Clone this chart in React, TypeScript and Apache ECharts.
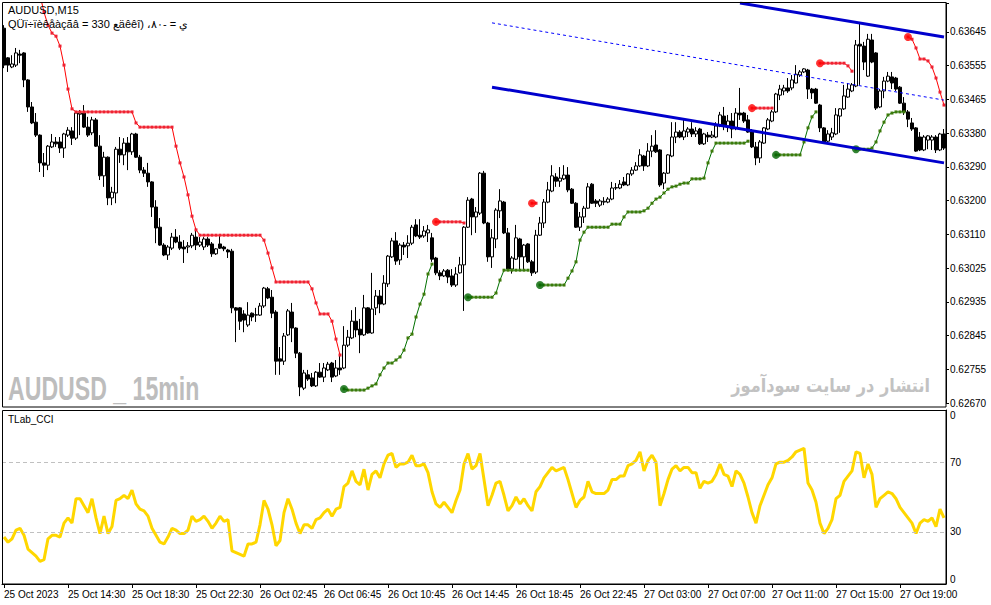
import React, { useEffect, useRef } from "react";
import * as echarts from "echarts";

// ---------- DATA ----------
const xTickLabels = [
  "25 Oct 2023", "25 Oct 14:30", "25 Oct 18:30", "25 Oct 22:30", "26 Oct 02:45",
  "26 Oct 06:45", "26 Oct 10:45", "26 Oct 14:45", "26 Oct 18:45", "26 Oct 22:45",
  "27 Oct 03:00", "27 Oct 07:00", "27 Oct 11:00", "27 Oct 15:00", "27 Oct 19:00",
];
const barsPerTick = 16;
const priceTickLabels = [
  "0.62670", "0.62755", "0.62845", "0.62935", "0.63025", "0.63110",
  "0.63200", "0.63290", "0.63380", "0.63465", "0.63555", "0.63645",
];
const priceMin = 0.6267;
const priceMax = 0.637212;
const priceStep = 0.6267 / 707;

// [open, high, low, close]
const ohlc: number[][] = [
  [0.63655,0.63663,0.63550,0.63558],[0.63577,0.63579,0.63540,0.63558],[0.63553,0.63584,0.63550,0.63561],[0.63558,0.63603,0.63553,0.63590],
  [0.63587,0.63598,0.63563,0.63584],[0.63590,0.63592,0.63500,0.63519],[0.63519,0.63521,0.63435,0.63448],[0.63448,0.63461,0.63403,0.63406],
  [0.63408,0.63432,0.63369,0.63374],[0.63374,0.63376,0.63277,0.63301],[0.63301,0.63327,0.63264,0.63295],[0.63295,0.63348,0.63282,0.63345],
  [0.63343,0.63377,0.63340,0.63356],[0.63356,0.63369,0.63343,0.63351],[0.63356,0.63369,0.63327,0.63340],[0.63340,0.63380,0.63314,0.63377],
  [0.63374,0.63395,0.63369,0.63387],[0.63385,0.63395,0.63348,0.63366],[0.63366,0.63437,0.63361,0.63432],[0.63429,0.63440,0.63374,0.63432],
  [0.63432,0.63453,0.63393,0.63395],[0.63395,0.63422,0.63369,0.63374],[0.63380,0.63422,0.63374,0.63414],[0.63414,0.63419,0.63343,0.63345],
  [0.63345,0.63374,0.63256,0.63267],[0.63267,0.63330,0.63238,0.63316],[0.63316,0.63318,0.63190,0.63209],[0.63209,0.63238,0.63190,0.63224],
  [0.63222,0.63343,0.63195,0.63337],[0.63337,0.63369,0.63301,0.63322],[0.63322,0.63366,0.63295,0.63353],[0.63353,0.63369,0.63282,0.63330],
  [0.63330,0.63380,0.63322,0.63377],[0.63377,0.63380,0.63314,0.63316],[0.63316,0.63322,0.63274,0.63282],[0.63282,0.63290,0.63264,0.63274],
  [0.63274,0.63301,0.63238,0.63251],[0.63251,0.63253,0.63159,0.63185],[0.63185,0.63203,0.63090,0.63130],[0.63132,0.63156,0.63083,0.63085],
  [0.63085,0.63090,0.63056,0.63059],[0.63059,0.63085,0.63046,0.63080],[0.63077,0.63117,0.63072,0.63106],[0.63106,0.63127,0.63090,0.63093],
  [0.63093,0.63111,0.63072,0.63077],[0.63080,0.63098,0.63038,0.63075],[0.63080,0.63093,0.63064,0.63083],[0.63083,0.63117,0.63077,0.63111],
  [0.63106,0.63130,0.63072,0.63085],[0.63085,0.63106,0.63080,0.63093],[0.63080,0.63106,0.63072,0.63101],[0.63101,0.63106,0.63080,0.63085],
  [0.63088,0.63093,0.63054,0.63062],[0.63062,0.63077,0.63059,0.63075],[0.63088,0.63114,0.63075,0.63077],[0.63080,0.63083,0.63069,0.63075],
  [0.63072,0.63075,0.63051,0.63067],[0.63069,0.63075,0.62906,0.62920],[0.62920,0.62922,0.62830,0.62914],[0.62920,0.62922,0.62862,0.62885],
  [0.62904,0.62914,0.62856,0.62888],[0.62875,0.62935,0.62870,0.62901],[0.62906,0.62908,0.62885,0.62896],[0.62901,0.62920,0.62883,0.62902],
  [0.62901,0.62933,0.62899,0.62925],[0.62925,0.62975,0.62920,0.62972],[0.62970,0.62975,0.62943,0.62946],[0.62948,0.62967,0.62893,0.62906],
  [0.62909,0.62914,0.62744,0.62780],[0.62786,0.62817,0.62744,0.62780],[0.62780,0.62854,0.62770,0.62846],[0.62849,0.62917,0.62846,0.62912],
  [0.62909,0.62933,0.62830,0.62867],[0.62867,0.62869,0.62788,0.62801],[0.62801,0.62804,0.62688,0.62712],[0.62709,0.62757,0.62704,0.62749],
  [0.62744,0.62757,0.62728,0.62733],[0.62736,0.62749,0.62712,0.62715],[0.62715,0.62754,0.62712,0.62751],[0.62751,0.62775,0.62736,0.62738],
  [0.62738,0.62775,0.62725,0.62762],[0.62757,0.62778,0.62754,0.62772],[0.62775,0.62778,0.62725,0.62738],[0.62741,0.62783,0.62738,0.62762],
  [0.62762,0.62801,0.62744,0.62757],[0.62762,0.62872,0.62759,0.62822],[0.62822,0.62862,0.62817,0.62843],[0.62841,0.62914,0.62838,0.62885],
  [0.62885,0.62922,0.62843,0.62862],[0.62864,0.62891,0.62801,0.62849],[0.62849,0.62954,0.62846,0.62920],[0.62920,0.62922,0.62852,0.62854],
  [0.62854,0.63012,0.62852,0.62917],[0.62920,0.62967,0.62901,0.62951],[0.62951,0.62967,0.62906,0.62930],[0.62930,0.63006,0.62927,0.62985],
  [0.62983,0.63059,0.62975,0.63056],[0.63054,0.63104,0.63051,0.63096],[0.63096,0.63119,0.63033,0.63043],[0.63046,0.63090,0.63033,0.63085],
  [0.63085,0.63093,0.63059,0.63080],[0.63083,0.63111,0.63051,0.63090],[0.63090,0.63138,0.63085,0.63132],[0.63138,0.63153,0.63106,0.63109],
  [0.63111,0.63153,0.63101,0.63106],[0.63109,0.63135,0.63104,0.63122],[0.63117,0.63138,0.63093,0.63125],[0.63104,0.63117,0.63041,0.63048],
  [0.63051,0.63054,0.63006,0.63012],[0.63012,0.63019,0.62993,0.63004],[0.63004,0.63022,0.63001,0.63017],[0.63019,0.63022,0.62985,0.63001],
  [0.63004,0.63022,0.62975,0.62980],[0.62980,0.63027,0.62975,0.63009],[0.63012,0.63054,0.63010,0.63033],[0.63033,0.63135,0.62912,0.63132],
  [0.63132,0.63211,0.63130,0.63203],[0.63206,0.63209,0.63111,0.63159],[0.63159,0.63185,0.63117,0.63172],[0.63169,0.63277,0.63164,0.63274],
  [0.63274,0.63280,0.63140,0.63143],[0.63143,0.63146,0.63041,0.63054],[0.63054,0.63127,0.63025,0.63104],[0.63101,0.63182,0.63077,0.63177],
  [0.63175,0.63232,0.63156,0.63201],[0.63198,0.63201,0.63114,0.63117],[0.63117,0.63130,0.63017,0.63022],[0.63022,0.63056,0.63010,0.63051],
  [0.63048,0.63138,0.63046,0.63104],[0.63101,0.63104,0.63022,0.63054],[0.63054,0.63088,0.63019,0.63085],[0.63088,0.63090,0.63038,0.63041],
  [0.63041,0.63046,0.63004,0.63012],[0.63014,0.63125,0.63009,0.63111],[0.63111,0.63159,0.63109,0.63143],[0.63143,0.63206,0.63130,0.63198],
  [0.63198,0.63251,0.63195,0.63230],[0.63227,0.63295,0.63224,0.63267],[0.63264,0.63274,0.63238,0.63253],[0.63253,0.63290,0.63238,0.63261],
  [0.63259,0.63295,0.63256,0.63269],[0.63269,0.63290,0.63224,0.63230],[0.63232,0.63235,0.63193,0.63195],[0.63195,0.63198,0.63130,0.63132],
  [0.63132,0.63172,0.63122,0.63159],[0.63159,0.63188,0.63143,0.63182],[0.63182,0.63248,0.63180,0.63238],[0.63245,0.63248,0.63193,0.63195],
  [0.63201,0.63206,0.63185,0.63195],[0.63190,0.63206,0.63185,0.63201],[0.63198,0.63211,0.63190,0.63200],[0.63198,0.63211,0.63195,0.63206],
  [0.63206,0.63251,0.63203,0.63235],[0.63235,0.63248,0.63230,0.63236],[0.63235,0.63256,0.63232,0.63245],[0.63251,0.63264,0.63240,0.63243],
  [0.63243,0.63274,0.63240,0.63272],[0.63272,0.63290,0.63267,0.63282],[0.63282,0.63303,0.63280,0.63293],[0.63293,0.63337,0.63290,0.63322],
  [0.63319,0.63322,0.63280,0.63293],[0.63293,0.63353,0.63290,0.63332],[0.63332,0.63374,0.63316,0.63345],[0.63348,0.63387,0.63327,0.63330],
  [0.63335,0.63337,0.63238,0.63243],[0.63248,0.63277,0.63232,0.63274],[0.63274,0.63324,0.63272,0.63322],[0.63319,0.63408,0.63316,0.63369],
  [0.63369,0.63408,0.63353,0.63382],[0.63382,0.63387,0.63366,0.63369],[0.63369,0.63414,0.63361,0.63385],[0.63382,0.63395,0.63369,0.63390],
  [0.63390,0.63408,0.63369,0.63377],[0.63377,0.63395,0.63369,0.63385],[0.63390,0.63393,0.63348,0.63351],[0.63351,0.63380,0.63348,0.63377],
  [0.63374,0.63382,0.63356,0.63369],[0.63369,0.63385,0.63366,0.63374],[0.63369,0.63408,0.63366,0.63398],[0.63398,0.63435,0.63395,0.63427],
  [0.63424,0.63448,0.63387,0.63398],[0.63398,0.63427,0.63382,0.63411],[0.63411,0.63432,0.63366,0.63390],[0.63393,0.63445,0.63387,0.63432],
  [0.63432,0.63498,0.63414,0.63427],[0.63432,0.63435,0.63406,0.63411],[0.63414,0.63427,0.63380,0.63382],[0.63382,0.63390,0.63340,0.63343],
  [0.63343,0.63356,0.63295,0.63314],[0.63314,0.63361,0.63301,0.63356],[0.63353,0.63395,0.63351,0.63393],[0.63390,0.63419,0.63387,0.63414],
  [0.63411,0.63440,0.63408,0.63435],[0.63435,0.63485,0.63432,0.63482],[0.63479,0.63506,0.63466,0.63495],[0.63490,0.63506,0.63479,0.63498],
  [0.63498,0.63524,0.63485,0.63490],[0.63498,0.63532,0.63492,0.63519],[0.63511,0.63558,0.63510,0.63534],[0.63532,0.63545,0.63527,0.63540],
  [0.63540,0.63550,0.63537,0.63548],[0.63545,0.63548,0.63469,0.63495],[0.63495,0.63498,0.63469,0.63485],[0.63495,0.63498,0.63456,0.63458],
  [0.63453,0.63456,0.63382,0.63393],[0.63393,0.63395,0.63353,0.63356],[0.63358,0.63387,0.63353,0.63377],[0.63369,0.63393,0.63361,0.63380],
  [0.63377,0.63445,0.63374,0.63427],[0.63424,0.63445,0.63380,0.63443],[0.63443,0.63506,0.63440,0.63477],[0.63474,0.63511,0.63472,0.63495],
  [0.63490,0.63511,0.63487,0.63506],[0.63503,0.63624,0.63500,0.63611],[0.63613,0.63669,0.63506,0.63608],[0.63608,0.63619,0.63545,0.63566],
  [0.63529,0.63640,0.63527,0.63626],[0.63624,0.63640,0.63563,0.63566],[0.63590,0.63592,0.63440,0.63445],[0.63448,0.63495,0.63445,0.63490],
  [0.63490,0.63527,0.63471,0.63516],[0.63516,0.63540,0.63513,0.63529],[0.63527,0.63540,0.63495,0.63511],[0.63524,0.63527,0.63490,0.63495],
  [0.63500,0.63503,0.63456,0.63458],[0.63458,0.63474,0.63427,0.63435],[0.63435,0.63440,0.63395,0.63416],[0.63406,0.63419,0.63385,0.63390],
  [0.63393,0.63395,0.63330,0.63332],[0.63369,0.63382,0.63332,0.63335],[0.63335,0.63374,0.63332,0.63369],[0.63361,0.63374,0.63337,0.63372],
  [0.63361,0.63374,0.63335,0.63369],[0.63369,0.63374,0.63327,0.63335],[0.63335,0.63380,0.63332,0.63377],[0.63377,0.63390,0.63335,0.63340],
];

// trailing-stop segments: first bar index of each segment and its values
const redStarts = [9, 108, 132, 187, 204, 226];
const redValues: number[][] = [
  [0.63742,0.63697,0.63663,0.63642,0.63634,0.63608,0.63558,0.63495,0.63443,
   0.63435,0.63435,0.63435,0.63435,0.63435,0.63435,0.63435,0.63435,0.63435,0.63435,0.63435,0.63435,0.63435,0.63435,0.63435,
   0.63406,
   0.63395,0.63395,0.63395,0.63395,0.63395,0.63395,0.63395,0.63395,0.63395,
   0.63345,0.63301,0.63264,0.63217,0.63161,0.63125,
   0.63111,0.63111,0.63111,0.63111,0.63111,0.63111,0.63111,0.63111,0.63111,0.63111,0.63111,0.63111,0.63111,0.63111,0.63111,0.63111,
   0.63098,0.63064,0.63025,
   0.62988,0.62988,0.62988,0.62988,0.62988,0.62988,0.62988,0.62988,0.62988,
   0.62970,0.62933,0.62904,0.62904,0.62904,0.62885,0.62838,0.62796],
  [0.63146,0.63146,0.63146,0.63146,0.63146,0.63146,0.63146,0.63143],
  [0.63195,0.63195],
  [0.63445,0.63445,0.63445,0.63445,0.63445,0.63445],
  [0.63563,0.63563,0.63563,0.63563,0.63563,0.63563,0.63563,0.63556,0.63542],
  [0.63632,0.63626,0.63603,0.63574,0.63574,0.63569,0.63553,0.63524,0.63487,0.63453],
];
const greenStarts = [85, 116, 134, 193, 213];
const greenValues: number[][] = [
  [0.62707,0.62704,0.62704,0.62704,0.62704,0.62704,0.62709,0.62715,0.62720,0.62744,0.62762,0.62775,0.62775,0.62783,0.62791,
   0.62809,0.62841,0.62851,0.62896,0.62930,0.62956,0.63009,0.63035],
  [0.62948,0.62948,0.62948,0.62948,0.62948,0.62948,0.62948,0.62959,0.62993,0.63019,0.63019,0.63019,0.63019,0.63019,0.63019,0.63019],
  [0.62980,0.62980,0.62980,0.62980,0.62980,0.62980,0.62980,0.62998,0.63017,0.63041,0.63098,0.63119,
   0.63132,0.63132,0.63132,0.63132,0.63132,0.63132,0.63140,0.63140,0.63140,0.63159,0.63172,0.63172,0.63172,0.63172,
   0.63175,0.63182,0.63195,0.63206,0.63211,0.63222,0.63232,0.63238,0.63240,0.63245,0.63248,0.63248,
   0.63259,0.63259,0.63259,0.63261,0.63301,0.63332,
   0.63353,0.63353,0.63353,0.63353,0.63353,0.63353,0.63353,0.63353,0.63358],
  [0.63322,0.63322,0.63322,0.63322,0.63322,0.63322,0.63322,0.63356,0.63393,0.63422,0.63435],
  [0.63337,0.63337,0.63337,0.63337,0.63340,0.63356,0.63385,0.63408,0.63427,0.63432,0.63435,0.63435,0.63435],
];

// regression channel lines [bar index, price]
const channelLower = [[122, 0.635], [235, 0.63301]];
const channelUpper = [[184, 0.63721], [235, 0.63632]];
const channelMid = [[122, 0.63669], [235, 0.63466]];

const cci = [
  27,24,26,31,32,28,20,18,16,13,14,26,28,28,27,35,38,35,49,49,45,41,49,38,29,39,29,33,48,49,
  51,49,54,46,43,42,39,32,28,24,23,27,32,31,29,29,31,39,36,37,39,36,32,35,39,36,37,19,18,17,
  16,23,23,24,34,48,43,34,22,25,41,49,43,35,29,34,34,32,37,38,41,43,39,43,44,56,58,65,59,57,
  66,54,63,65,61,69,74,75,67,69,69,70,74,68,68,69,64,53,46,44,47,44,41,48,54,69,75,66,68,75,
  60,45,51,58,59,51,42,45,50,46,49,45,42,53,56,61,64,67,65,66,67,60,52,44,48,50,59,53,52,52,
  52,54,60,60,62,62,68,69,71,76,65,71,74,70,45,52,60,66,68,65,67,67,64,64,55,59,58,59,63,69,
  63,62,56,65,63,58,50,41,35,45,51,57,61,69,70,70,71,73,76,77,78,58,54,47,35,29,32,37,49,51,
  59,62,65,76,75,61,69,63,44,49,51,53,52,49,44,41,38,35,29,35,37,36,38,33,43,38,
];
const cciLevels = [30, 70];

const FONT = '"Liberation Sans", Arial, sans-serif';

function buildStops(starts: number[], values: number[][], n: number) {
  const arr: (number | null)[] = [];
  for (let i = 0; i < n; i++) arr.push(null);
  starts.forEach((s, k) => values[k].forEach((v, j) => { if (s + j < n) arr[s + j] = v; }));
  return arr;
}

export default function App() {
  const ref = useRef<HTMLDivElement>(null);
  useEffect(() => {
    if (!ref.current) return;
    document.body.style.margin = "0";
    const chart = echarts.init(ref.current, null, { renderer: "svg" });
    const n = ohlc.length;
    const cats = ohlc.map((_, i) => String(i));
    const candleData = ohlc.map((r) => [r[0], r[3], r[2], r[1]]);
    const red = buildStops(redStarts, redValues, n);
    const green = buildStops(greenStarts, greenValues, n);
    const redStartPts = redStarts.map((s, k) => [s, redValues[k][0]]).filter((p) => p[1] < priceMax);
    const greenStartPts = greenStarts.map((s, k) => [s, greenValues[k][0]]);
    const tickFn = (i: number) => i % barsPerTick === 0;

    const option: any = {
      animation: false,
      backgroundColor: "#fff",
      grid: [
        { left: 2, right: 45, top: 3, height: 400 },
        { left: 2, right: 45, top: 410, height: 174 },
      ],
      xAxis: [
        {
          type: "category", gridIndex: 0, data: cats, boundaryGap: true,
          axisLine: { show: false }, axisTick: { show: false }, axisLabel: { show: false }, splitLine: { show: false },
        },
        {
          type: "category", gridIndex: 1, data: cats, boundaryGap: true,
          axisLine: { show: true, lineStyle: { color: "#000", width: 1 } },
          axisTick: { show: true, interval: tickFn, alignWithLabel: true, length: 4, lineStyle: { color: "#000" } },
          axisLabel: {
            show: true, interval: tickFn, align: "left", margin: 5,
            fontFamily: FONT, fontSize: 10, color: "#000",
            formatter: (_v: string, i: number) => xTickLabels[Math.round(i / barsPerTick)] || "",
          },
          splitLine: { show: false },
        },
      ],
      yAxis: [
        {
          type: "value", gridIndex: 0, position: "right", scale: true,
          min: priceMin, max: priceMax, interval: priceStep,
          axisLine: { show: true, lineStyle: { color: "#000" } },
          axisTick: { show: true, length: 3, lineStyle: { color: "#000" } },
          splitLine: { show: false },
          axisLabel: {
            margin: 4, fontFamily: FONT, fontSize: 10, color: "#000",
            formatter: (v: number) => {
              const k = Math.round((v - priceMin) / priceStep);
              if (Math.abs(v - (priceMin + k * priceStep)) > priceStep * 0.05) return "";
              return priceTickLabels[k] || "";
            },
          },
        },
        {
          type: "value", gridIndex: 1, position: "right", min: 0, max: 100, interval: 10,
          axisLine: { show: true, lineStyle: { color: "#000" } },
          axisTick: { show: false },
          splitLine: { show: false },
          axisLabel: {
            margin: 4, fontFamily: FONT, fontSize: 10, color: "#000",
            verticalAlignMinLabel: "bottom", verticalAlignMaxLabel: "top",
            formatter: (v: number) => (v === 30 || v === 70 ? String(v) : v === 0 || v === 100 ? "0" : ""),
          },
        },
      ],
      series: [
        {
          type: "candlestick", xAxisIndex: 0, yAxisIndex: 0, data: candleData, barWidth: 3,
          itemStyle: { color: "#ffffff", color0: "#000000", borderColor: "#000000", borderColor0: "#000000", borderWidth: 1 },
        },
        {
          type: "line", xAxisIndex: 0, yAxisIndex: 0, data: red, connectNulls: false,
          showSymbol: true, showAllSymbol: true, symbol: "rect", symbolSize: 3,
          lineStyle: { color: "#ff0000", width: 1 }, itemStyle: { color: "#ee2233" }, z: 3,
        },
        {
          type: "line", xAxisIndex: 0, yAxisIndex: 0, data: green, connectNulls: false,
          showSymbol: true, showAllSymbol: true, symbol: "rect", symbolSize: 3,
          lineStyle: { color: "#007000", width: 1 }, itemStyle: { color: "#3d7a0a" }, z: 3,
        },
        {
          type: "scatter", xAxisIndex: 0, yAxisIndex: 0, data: redStartPts, symbolSize: 8,
          itemStyle: { color: "#ff0000" }, z: 4,
        },
        {
          type: "scatter", xAxisIndex: 0, yAxisIndex: 0, data: greenStartPts, symbolSize: 8,
          itemStyle: { color: "#006400" }, z: 4,
        },
        {
          type: "line", xAxisIndex: 0, yAxisIndex: 0, data: channelLower, showSymbol: false,
          lineStyle: { color: "#0000cd", width: 3 }, z: 5,
        },
        {
          type: "line", xAxisIndex: 0, yAxisIndex: 0, data: channelUpper, showSymbol: false,
          lineStyle: { color: "#0000cd", width: 3 }, z: 5,
        },
        {
          type: "line", xAxisIndex: 0, yAxisIndex: 0, data: channelMid, showSymbol: false,
          lineStyle: { color: "#0000ff", width: 1, type: [3, 3] }, z: 5,
        },
        {
          type: "line", xAxisIndex: 1, yAxisIndex: 1, data: cci, showSymbol: false,
          lineStyle: { color: "#ffd700", width: 3 },
          markLine: {
            silent: true, symbol: "none", label: { show: false },
            lineStyle: { color: "#c0c0c0", width: 1, type: [4, 3] },
            data: cciLevels.map((v) => ({ yAxis: v })),
          },
        },
      ],
      graphic: [
        { type: "rect", shape: { x: 2.5, y: 2.5, width: 943.5, height: 404.5 }, style: { fill: "none", stroke: "#000", lineWidth: 1 }, silent: true, z: 10 },
        { type: "rect", shape: { x: 2.5, y: 410.5, width: 943.5, height: 173.5 }, style: { fill: "none", stroke: "#000", lineWidth: 1 }, silent: true, z: 10 },
        {
          type: "text", x: 8, y: 388, scaleX: 0.68, silent: true, z: 1,
          style: { text: "AUDUSD _ 15min", fill: "#bdbdbd", font: 'bold 34px "Liberation Sans", Arial, sans-serif', textAlign: "left", textVerticalAlign: "middle", align: "left", verticalAlign: "middle" },
        },
        {
          type: "text", x: 930, y: 386, scaleX: 0.85, silent: true, z: 1,
          style: { text: "انتشار در سایت سودآموز", fill: "#c2c2c2", font: 'bold 19px "DejaVu Sans", sans-serif', textAlign: "right", textVerticalAlign: "middle", align: "right", verticalAlign: "middle" },
        },
        {
          type: "text", x: 8, y: 10, silent: true, z: 11,
          style: { text: "AUDUSD,M15", fill: "#000", font: '11px "Liberation Sans", Arial, sans-serif', textAlign: "left", textVerticalAlign: "middle", align: "left", verticalAlign: "middle" },
        },
        {
          type: "text", x: 8, y: 24, silent: true, z: 11,
          style: { text: "\u202DQÜï÷ïèêåàçãâ = 330 ﻊäêêî) ،٨٠- = ي\u202C", fill: "#000", font: '11px "Liberation Sans", Arial, sans-serif', textAlign: "left", textVerticalAlign: "middle", align: "left", verticalAlign: "middle" },
        },
        {
          type: "text", x: 8, y: 419, silent: true, z: 11,
          style: { text: "TLab_CCI", fill: "#000", font: '10px "Liberation Sans", Arial, sans-serif', textAlign: "left", textVerticalAlign: "middle", align: "left", verticalAlign: "middle" },
        },
      ],
    };
    chart.setOption(option);
    return () => chart.dispose();
  }, []);
  return <div ref={ref} style={{ position: "absolute", left: 0, top: 0, width: 991, height: 605, background: "#fff" }} />;
}
